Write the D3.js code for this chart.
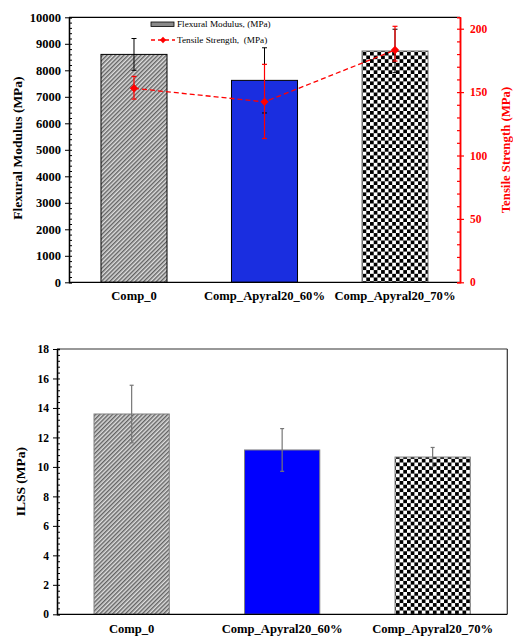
<!DOCTYPE html>
<meta charset="utf-8">
<script src="https://d3js.org/d3.v7.min.js"></script>
<style>
  body { margin: 0; background: #fff; }
  text { font-family: "Liberation Serif", "Times New Roman", serif; }
</style>
<svg id="chart" width="513" height="636"></svg>
<script>

// data
var categories = ["Comp_0", "Comp_Apyral20_60%", "Comp_Apyral20_70%"];
var flexModulus = [8600, 7620, 8730];
var flexErr = [600, 1230, 820];
var tensile = [153, 142.3, 183.2];
var tensileErrUp = [9.4, 29.6, 18.7];
var tensileErrDown = [8.5, 28.9, 8.7];
var ilss = [13.59, 11.15, 10.67];
var ilssErr = [1.95, 1.45, 0.65];
var flexTicks = d3.range(0, 10001, 1000);
var tensileTicks = [0, 50, 100, 150, 200];
var ilssTicks = d3.range(0, 19, 2);

var fills = ["url(#hatch)", null, "url(#checker)"];

var svg = d3.select("#chart");
var defs = svg.append("defs");

// diagonal hatch
var hatch = defs.append("pattern")
  .attr("id", "hatch")
  .attr("patternUnits", "userSpaceOnUse")
  .attr("width", 3).attr("height", 3)
  .attr("patternTransform", "rotate(45)");
hatch.append("rect").attr("width", 3).attr("height", 3).attr("fill", "#dedede");
hatch.append("line").attr("x1", 0.75).attr("y1", 0).attr("x2", 0.75).attr("y2", 3)
  .attr("stroke", "#555").attr("stroke-width", 1.3);

// checkerboard
var cs = 3.7;
var checker = defs.append("pattern")
  .attr("id", "checker")
  .attr("patternUnits", "userSpaceOnUse")
  .attr("width", cs * 2).attr("height", cs * 2);
checker.append("rect").attr("width", cs * 2).attr("height", cs * 2).attr("fill", "#fff");
checker.append("rect").attr("width", cs).attr("height", cs).attr("fill", "#000");
checker.append("rect").attr("x", cs).attr("y", cs).attr("width", cs).attr("height", cs).attr("fill", "#000");

// ---------------- top chart ----------------
var t = {left: 69, right: 460, top: 17.3, bottom: 282.3};

var x1 = d3.scaleBand().domain(categories).range([t.left, t.right])
  .paddingInner(0.494).paddingOuter(0.245);
var y1 = d3.scaleLinear().domain([0, 10000]).range([t.bottom, t.top]);
var y1r = d3.scaleLinear().domain([0, 209]).range([t.bottom, t.top]);

var g1 = svg.append("g");

// bars
g1.selectAll("rect.bar")
  .data(flexModulus)
  .enter().append("rect")
    .attr("class", "bar")
    .attr("x", function(d, i) { return x1(categories[i]); })
    .attr("y", function(d) { return y1(d); })
    .attr("width", x1.bandwidth())
    .attr("height", function(d) { return y1(0) - y1(d); })
    .attr("fill", function(d, i) { return fills[i] || "#1a2ee0"; })
    .attr("stroke", function(d, i) { return i == 2 ? "#777" : "#000"; })
    .attr("stroke-width", 1);

// flex error bars
var fe = g1.selectAll("g.ferr").data(flexModulus).enter().append("g");
fe.append("line")
  .attr("x1", function(d, i) { return x1(categories[i]) + x1.bandwidth() / 2; })
  .attr("x2", function(d, i) { return x1(categories[i]) + x1.bandwidth() / 2; })
  .attr("y1", function(d, i) { return y1(d + flexErr[i]); })
  .attr("y2", function(d, i) { return y1(d - flexErr[i]); })
  .attr("stroke", "#000").attr("stroke-width", 1);
[1, -1].forEach(function(s) {
  fe.append("line")
    .attr("x1", function(d, i) { return x1(categories[i]) + x1.bandwidth() / 2 - 2.5; })
    .attr("x2", function(d, i) { return x1(categories[i]) + x1.bandwidth() / 2 + 2.5; })
    .attr("y1", function(d, i) { return y1(d + s * flexErr[i]); })
    .attr("y2", function(d, i) { return y1(d + s * flexErr[i]); })
    .attr("stroke", "#000").attr("stroke-width", 1);
});

// tensile line
var cx = function(i) { return x1(categories[i]) + x1.bandwidth() / 2; };
g1.append("path")
  .datum(tensile)
  .attr("d", d3.line().x(function(d, i) { return cx(i); }).y(function(d) { return y1r(d); }))
  .attr("fill", "none").attr("stroke", "#f00").attr("stroke-width", 1.3)
  .attr("stroke-dasharray", "5,3");

var te = g1.selectAll("g.terr").data(tensile).enter().append("g");
te.append("line")
  .attr("x1", function(d, i) { return cx(i); })
  .attr("x2", function(d, i) { return cx(i); })
  .attr("y1", function(d, i) { return y1r(d + tensileErrUp[i]); })
  .attr("y2", function(d, i) { return y1r(d - tensileErrDown[i]); })
  .attr("stroke", "#f00").attr("stroke-width", 1.2);
te.append("line")
  .attr("x1", function(d, i) { return cx(i) - 2.5; })
  .attr("x2", function(d, i) { return cx(i) + 2.5; })
  .attr("y1", function(d, i) { return y1r(d + tensileErrUp[i]); })
  .attr("y2", function(d, i) { return y1r(d + tensileErrUp[i]); })
  .attr("stroke", "#f00").attr("stroke-width", 1.2);
te.append("line")
  .attr("x1", function(d, i) { return cx(i) - 2.5; })
  .attr("x2", function(d, i) { return cx(i) + 2.5; })
  .attr("y1", function(d, i) { return y1r(d - tensileErrDown[i]); })
  .attr("y2", function(d, i) { return y1r(d - tensileErrDown[i]); })
  .attr("stroke", "#f00").attr("stroke-width", 1.2);
g1.selectAll("path.dia").data(tensile).enter().append("path")
  .attr("d", d3.symbol().type(d3.symbolDiamond2).size(45))
  .attr("transform", function(d, i) { return "translate(" + cx(i) + "," + y1r(d) + ")"; })
  .attr("fill", "#f00");

// top border
g1.append("line").attr("x1", t.left).attr("x2", t.right).attr("y1", t.top).attr("y2", t.top)
  .attr("stroke", "#000").attr("stroke-width", 1.2);

// left axis
var la = g1.append("g").attr("transform", "translate(" + t.left + ",0)");
la.call(d3.axisRight(y1).tickValues(d3.range(0, 10001, 200)).tickSize(3).tickFormat(""));
la.append("g").call(d3.axisLeft(y1).tickValues(flexTicks).tickSize(4).tickSizeOuter(0)
  .tickPadding(4).tickFormat(d3.format("d")));
la.selectAll("path.domain").attr("stroke", "#000").attr("stroke-width", 1.3);
la.selectAll("text").attr("font-size", "12.5px").attr("font-weight", "bold").attr("fill", "#000");

// bottom axis line
g1.append("line").attr("x1", t.left).attr("x2", t.right).attr("y1", t.bottom).attr("y2", t.bottom)
  .attr("stroke", "#000").attr("stroke-width", 1.3);

// right axis
var ra = g1.append("g").attr("transform", "translate(" + t.right + ",0)");
ra.call(d3.axisLeft(y1r).tickValues(d3.range(0, 201, 10)).tickSize(3).tickFormat(""));
ra.append("g").call(d3.axisRight(y1r).tickValues(tensileTicks).tickSize(4).tickSizeOuter(0)
  .tickPadding(6).tickFormat(d3.format("d")));
ra.selectAll("path.domain").attr("stroke", "#f00").attr("stroke-width", 1.5);
ra.selectAll("line").attr("stroke", "#f00").attr("stroke-width", 1.2);
ra.selectAll("text").attr("font-size", "11.5px").attr("font-weight", "bold").attr("fill", "#f00");

// x labels
g1.selectAll("text.xl").data(categories).enter().append("text")
  .attr("x", function(d) { return x1(d) + x1.bandwidth() / 2; })
  .attr("y", 300)
  .attr("text-anchor", "middle")
  .attr("font-size", "12.6px").attr("font-weight", "bold")
  .text(function(d) { return d; });

// axis titles
g1.append("text")
  .attr("transform", "translate(22," + 148 + ") rotate(-90)")
  .attr("text-anchor", "middle").attr("font-size", "13.5px").attr("font-weight", "bold")
  .text("Flexural Modulus (MPa)");
g1.append("text")
  .attr("transform", "translate(510," + 150 + ") rotate(-90)")
  .attr("text-anchor", "middle").attr("font-size", "12.8px").attr("font-weight", "bold")
  .attr("fill", "#f00")
  .text("Tensile Strength (MPa)");

// legend
g1.append("rect").attr("x", 151).attr("y", 22).attr("width", 23).attr("height", 4.5)
  .attr("fill", "#8a8a8a").attr("stroke", "#000").attr("stroke-width", 0.8);
g1.append("text").attr("x", 177).attr("y", 27).attr("font-size", "9.2px").text("Flexural Modulus, (MPa)");
g1.append("line").attr("x1", 151).attr("x2", 175).attr("y1", 40).attr("y2", 40)
  .attr("stroke", "#f00").attr("stroke-width", 1.3).attr("stroke-dasharray", "4,3");
g1.append("path").attr("d", d3.symbol().type(d3.symbolDiamond2).size(25))
  .attr("transform", "translate(163,40)").attr("fill", "#f00");
g1.append("text").attr("x", 177).attr("y", 43).attr("font-size", "9.2px")
  .attr("xml:space", "preserve").text("Tensile Strength,  (MPa)");

// ---------------- bottom chart ----------------
var b = {left: 57, right: 507.3, top: 349, bottom: 614.3};
var x2 = d3.scaleBand().domain(categories).range([b.left, b.right])
  .paddingInner(0.5).paddingOuter(0.246);
var y2 = d3.scaleLinear().domain([0, 18]).range([b.bottom, b.top]);

var g2 = svg.append("g");
g2.selectAll("rect.bar")
  .data(ilss)
  .enter().append("rect")
    .attr("x", function(d, i) { return x2(categories[i]); })
    .attr("y", function(d) { return y2(d); })
    .attr("width", x2.bandwidth())
    .attr("height", function(d) { return y2(0) - y2(d); })
    .attr("fill", function(d, i) { return fills[i] || "#0000ff"; })
    .attr("stroke", "#808080").attr("stroke-width", 1);

var ie = g2.selectAll("g.ierr").data(ilss).enter().append("g");
var cx2 = function(i) { return x2(categories[i]) + x2.bandwidth() / 2; };
ie.append("line")
  .attr("x1", function(d, i) { return cx2(i); })
  .attr("x2", function(d, i) { return cx2(i); })
  .attr("y1", function(d, i) { return y2(d + ilssErr[i]); })
  .attr("y2", function(d, i) { return y2(d - ilssErr[i]); })
  .attr("stroke", "#777").attr("stroke-width", 1.2);
[1, -1].forEach(function(s) {
  ie.append("line")
    .attr("x1", function(d, i) { return cx2(i) - 2; })
    .attr("x2", function(d, i) { return cx2(i) + 2; })
    .attr("y1", function(d, i) { return y2(d + s * ilssErr[i]); })
    .attr("y2", function(d, i) { return y2(d + s * ilssErr[i]); })
    .attr("stroke", "#777").attr("stroke-width", 1.2);
});

// frame
g2.append("line").attr("x1", b.left).attr("x2", b.right).attr("y1", b.top).attr("y2", b.top)
  .attr("stroke", "#333").attr("stroke-width", 1.2);
g2.append("line").attr("x1", b.right).attr("x2", b.right).attr("y1", b.top).attr("y2", b.bottom)
  .attr("stroke", "#333").attr("stroke-width", 1.2);
g2.append("line").attr("x1", b.left).attr("x2", b.right).attr("y1", b.bottom).attr("y2", b.bottom)
  .attr("stroke", "#000").attr("stroke-width", 1.3);

var la2 = g2.append("g").attr("transform", "translate(" + b.left + ",0)");
la2.call(d3.axisRight(y2).tickValues(d3.range(0, 18.01, 0.4)).tickSize(3).tickFormat(""));
la2.append("g").call(d3.axisLeft(y2).tickValues(ilssTicks).tickSize(4).tickSizeOuter(0).tickPadding(4));
la2.selectAll("path.domain").attr("stroke", "#000").attr("stroke-width", 1.3);
la2.selectAll("text").attr("font-size", "11.5px").attr("font-weight", "bold").attr("fill", "#000");

g2.selectAll("text.xl").data(categories).enter().append("text")
  .attr("x", function(d) { return x2(d) + x2.bandwidth() / 2; })
  .attr("y", 633)
  .attr("text-anchor", "middle")
  .attr("font-size", "12.6px").attr("font-weight", "bold")
  .text(function(d) { return d; });

g2.append("text")
  .attr("transform", "translate(25," + (b.top + b.bottom) / 2 + ") rotate(-90)")
  .attr("text-anchor", "middle").attr("font-size", "13.5px").attr("font-weight", "bold")
  .text("ILSS (MPa)");

</script>
